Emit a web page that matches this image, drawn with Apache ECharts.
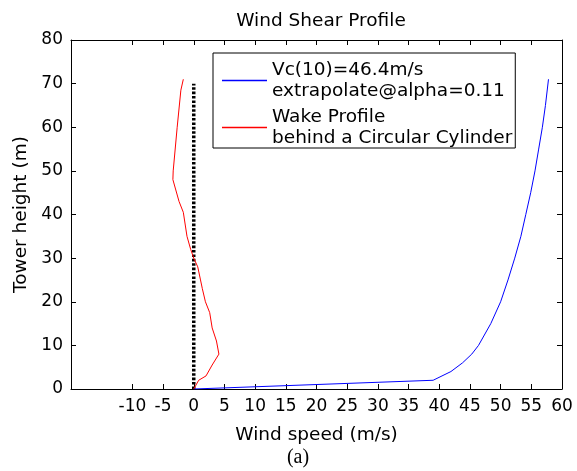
<!DOCTYPE html>
<html>
<head>
<meta charset="utf-8">
<script src="https://cdn.jsdelivr.net/npm/echarts@6/dist/echarts.min.js"></script>
<style>
  html, body { margin: 0; padding: 0; background: #fff; }
  #chart { width: 577px; height: 471px; }
</style>
</head>
<body>
<div id="chart"></div>
<script>
// power-law shear profile (blue)
const shearHeights = [0, 2, 4, 6, 8, 10, 15, 20, 25, 30, 35, 40, 45, 50, 55, 60, 65, 71]
const shearSpeeds = [0, 39.0, 41.9, 43.8, 45.3, 46.4, 48.4, 50.0, 51.2, 52.3, 53.3, 54.1, 54.9, 55.6, 56.2, 56.8, 57.3, 57.8]

// wake profile behind the cylinder (red)
const wakeHeights = [0, 2, 3, 5.5, 8, 11, 14, 17.5, 20, 23, 25, 28, 30, 32, 35, 40.5, 43, 48, 50, 60, 68.5, 71]
const wakeSpeeds = [0, 0.8, 2.0, 3.0, 4.1, 3.7, 3.0, 2.6, 1.9, 1.4, 1.1, 0.65, 0, -0.5, -1.1, -1.7, -2.4, -3.4, -3.35, -2.7, -2.1, -1.7]

// tower centre line (dotted)
const towerHeights = [0, 70]
const towerSpeeds = [0, 0]

const xTicks = [-10, -5, 0, 5, 10, 15, 20, 25, 30, 35, 40, 45, 50, 55, 60]
const yTicks = [0, 10, 20, 30, 40, 50, 60, 70, 80]

const SHEAR_NAME = 'Vc(10)=46.4m/s\nextrapolate@alpha=0.11'
const WAKE_NAME = 'Wake Profile\nbehind a Circular Cylinder'

const FONT = '"DejaVu Sans", "Liberation Sans", sans-serif'
const zip = (xs, ys) => xs.map((x, i) => [x, ys[i]])

const chart = echarts.init(document.getElementById('chart'), null, { renderer: 'canvas' })

const axisLine = { show: true, onZero: false, lineStyle: { color: '#000', width: 1 } }
const tick = (vals) => ({ show: true, inside: true, length: 5, customValues: vals, lineStyle: { color: '#000' } })

const option = {
  animation: false,
  backgroundColor: '#fff',
  title: {
    text: 'Wind Shear Profile',
    left: 316,
    top: 7,
    textAlign: 'center',
    textStyle: { fontFamily: FONT, fontSize: 18.5, fontWeight: 'normal', color: '#000' },
  },
  grid: { left: 71, right: 15, top: 40, bottom: 82, containLabel: false },
  legend: {
    data: [SHEAR_NAME, WAKE_NAME],
    orient: 'vertical',
    left: 213,
    top: 53,
    padding: [7, 3, 0, 9],
    itemGap: 6,
    itemWidth: 45,
    itemHeight: 1.5,
    icon: 'rect',
    borderColor: '#000',
    borderWidth: 1,
    borderRadius: 0,
    backgroundColor: '#fff',
    textStyle: { fontFamily: FONT, fontSize: 18.5, lineHeight: 20.5, color: '#000' },
  },
  xAxis: [
    {
      type: 'value', position: 'bottom', min: -20, max: 60,
      axisLine, axisTick: tick(xTicks),
      axisLabel: { customValues: xTicks, margin: 9, fontFamily: FONT, fontSize: 17, color: '#000' },
      splitLine: { show: false },
      name: 'Wind speed (m/s)', nameLocation: 'middle', nameGap: 37,
      nameTextStyle: { fontFamily: FONT, fontSize: 18.5, color: '#000' },
    },
    {
      type: 'value', position: 'top', min: -20, max: 60,
      axisLine, axisTick: tick(xTicks),
      axisLabel: { show: false }, splitLine: { show: false },
    },
  ],
  yAxis: [
    {
      type: 'value', position: 'left', min: 0, max: 80, interval: 10,
      axisLine, axisTick: tick(yTicks),
      axisLabel: { customValues: yTicks, margin: 8, fontFamily: FONT, fontSize: 17, color: '#000' },
      splitLine: { show: false },
      name: 'Tower height (m)', nameLocation: 'middle', nameGap: 35, nameRotate: 90,
      nameTextStyle: { fontFamily: FONT, fontSize: 18.5, color: '#000' },
    },
    {
      type: 'value', position: 'right', min: 0, max: 80, interval: 10,
      axisLine, axisTick: tick(yTicks),
      axisLabel: { show: false }, splitLine: { show: false },
    },
  ],
  series: [
    {
      name: SHEAR_NAME,
      type: 'line',
      data: zip(shearSpeeds, shearHeights),
      symbol: 'none',
      lineStyle: { color: '#0000ff', width: 1 },
      itemStyle: { color: '#0000ff' },
    },
    {
      name: WAKE_NAME,
      type: 'line',
      data: zip(wakeSpeeds, wakeHeights),
      symbol: 'none',
      lineStyle: { color: '#ff0000', width: 1 },
      itemStyle: { color: '#ff0000' },
    },
    {
      name: 'tower',
      type: 'line',
      data: zip(towerSpeeds, towerHeights),
      symbol: 'none',
      lineStyle: { color: '#000', width: 3.5, type: [2.6, 1.8] },
      z: 1,
    },
  ],
  graphic: [
    {
      type: 'text',
      x: 298,
      y: 458,
      style: {
        text: '(a)',
        font: '20px "Liberation Serif", "DejaVu Serif", serif',
        fill: '#000',
        align: 'center',
        verticalAlign: 'middle',
      },
    },
  ],
}

chart.setOption(option)
</script>
</body>
</html>
